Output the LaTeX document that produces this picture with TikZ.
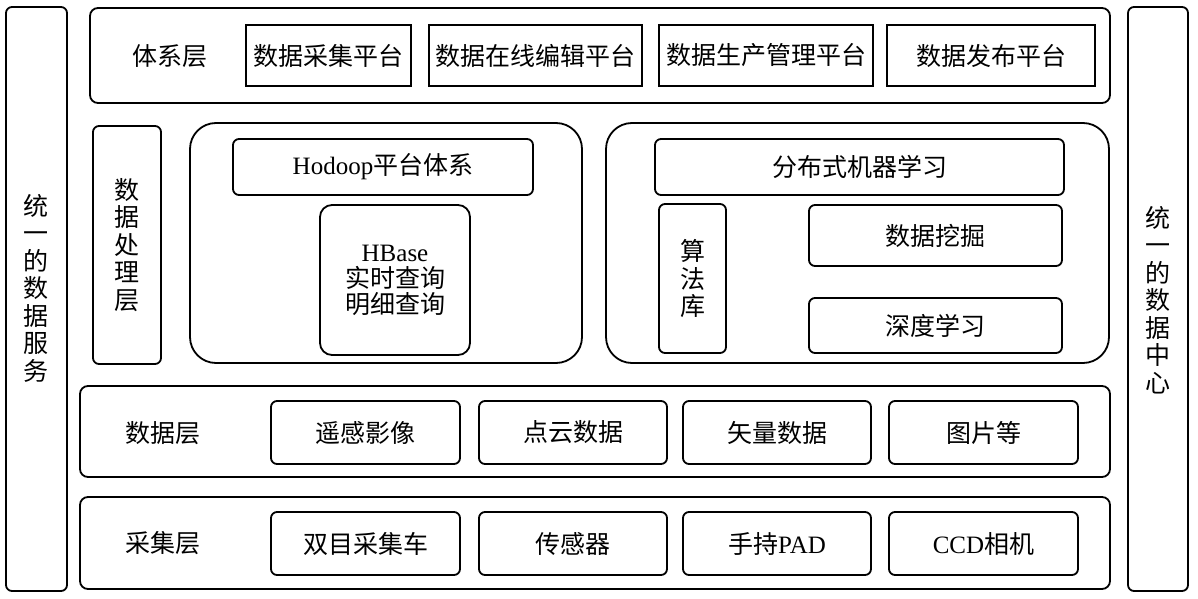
\documentclass[tikz,border=0pt]{standalone}
\usepackage{fontspec}
\setmainfont{Noto Sans CJK SC}
\newfontfamily\latfont{Liberation Serif}
\usepackage{tikz}
\usetikzlibrary{positioning}
\newcommand{\en}[1]{{\latfont #1}}

\begin{document}
\begin{tikzpicture}[x=0.5pt, y=-0.5pt,
  every node/.style={inner sep=0pt, font=\fontsize{12.5}{13.75}\selectfont},
  layer/.style={draw, line width=0.9pt, rounded corners=4pt},
  plat/.style={draw, line width=0.9pt, minimum height=30.5pt},
  item/.style={draw, line width=0.9pt, rounded corners=3pt, minimum width=94pt, minimum height=31.5pt},
  grp/.style={draw, line width=0.9pt, rounded corners=13pt, minimum height=120pt},
  side/.style={draw, line width=0.9pt, rounded corners=3pt, align=center, minimum height=292pt}]
\useasboundingbox (0,0) rectangle (1198,599);
% side columns
\node[side, minimum width=30.5pt] (serv) at (36.5,299) {};
\node[align=center] (servlab) at (36.5,288) {统\\一\\的\\数\\据\\服\\务};
\node[side, minimum width=30pt] (center) at (1158,299) {};
\node[align=center] (centerlab) at (1158,300) {统\\一\\的\\数\\据\\中\\心};
% system layer
\node[layer, minimum width=510pt, minimum height=47.5pt] (sys) at (600,55.5) {};
\node (syslab) at (170,56) {体系层};
\node[plat, minimum width=82.5pt] (p1) at (328.5,55.5) {数据采集平台};
\node[plat, minimum width=106.5pt] (p2) at (535.5,55.5) {数据在线编辑平台};
\node[plat, minimum width=107pt] (p3) at (766,55.5) {数据生产管理平台};
\node[plat, minimum width=104pt] (p4) at (991,55.5) {数据发布平台};
% processing layer
\node[side, minimum width=34pt, minimum height=119pt] (proc) at (127,245) {数\\据\\处\\理\\层};
\node[grp, minimum width=196pt] (hgrp) at (386,243) {};
\node[item, minimum width=150pt, minimum height=28pt] (hadoop) at (383,167) {\en{Hodoop}平台体系};
\node[draw, line width=0.9pt, rounded corners=6pt, minimum width=75pt, minimum height=75pt, align=center,
  font=\fontsize{12.5}{13}\selectfont] (hbase) at (395,280) {\en{HBase}\\实时查询\\明细查询};
\node[grp, minimum width=251.5pt] (mgrp) at (857.5,243) {};
\node[item, minimum width=204.5pt, minimum height=28pt] (ml) at (859.5,167) {分布式机器学习};
\node[item, minimum width=33.5pt, minimum height=74.5pt, align=center] (algo) at (692.5,278.5) {算\\法\\库};
\node[item, minimum width=126.5pt, minimum height=30.5pt] (mine) at (935.5,235.5) {数据挖掘};
\node[item, minimum width=126.5pt, minimum height=27.5pt] (deep) at (935.5,325.5) {深度学习};
% data layer
\node[layer, minimum width=515pt, minimum height=45.5pt] (data) at (595,431.5) {};
\node (datalab) at (163,433) {数据层};
\node[item, minimum width=94.5pt] (d1) at (365.5,432.5) {遥感影像};
\node[item] (d2) at (573,432.5) {点云数据};
\node[item] (d3) at (777,432.5) {矢量数据};
\node[item, minimum width=94.5pt] (d4) at (983.5,432.5) {图片等};
% acquisition layer
\node[layer, minimum width=515pt, minimum height=46pt] (acq) at (595,543) {};
\node (acqlab) at (163,543) {采集层};
\node[item, minimum width=94.5pt] (a1) at (365.5,543.5) {双目采集车};
\node[item] (a2) at (573,543.5) {传感器};
\node[item] (a3) at (777,543.5) {手持\en{PAD}};
\node[item, minimum width=94.5pt] (a4) at (983.5,543.5) {\en{CCD}相机};
\end{tikzpicture}
\end{document}
